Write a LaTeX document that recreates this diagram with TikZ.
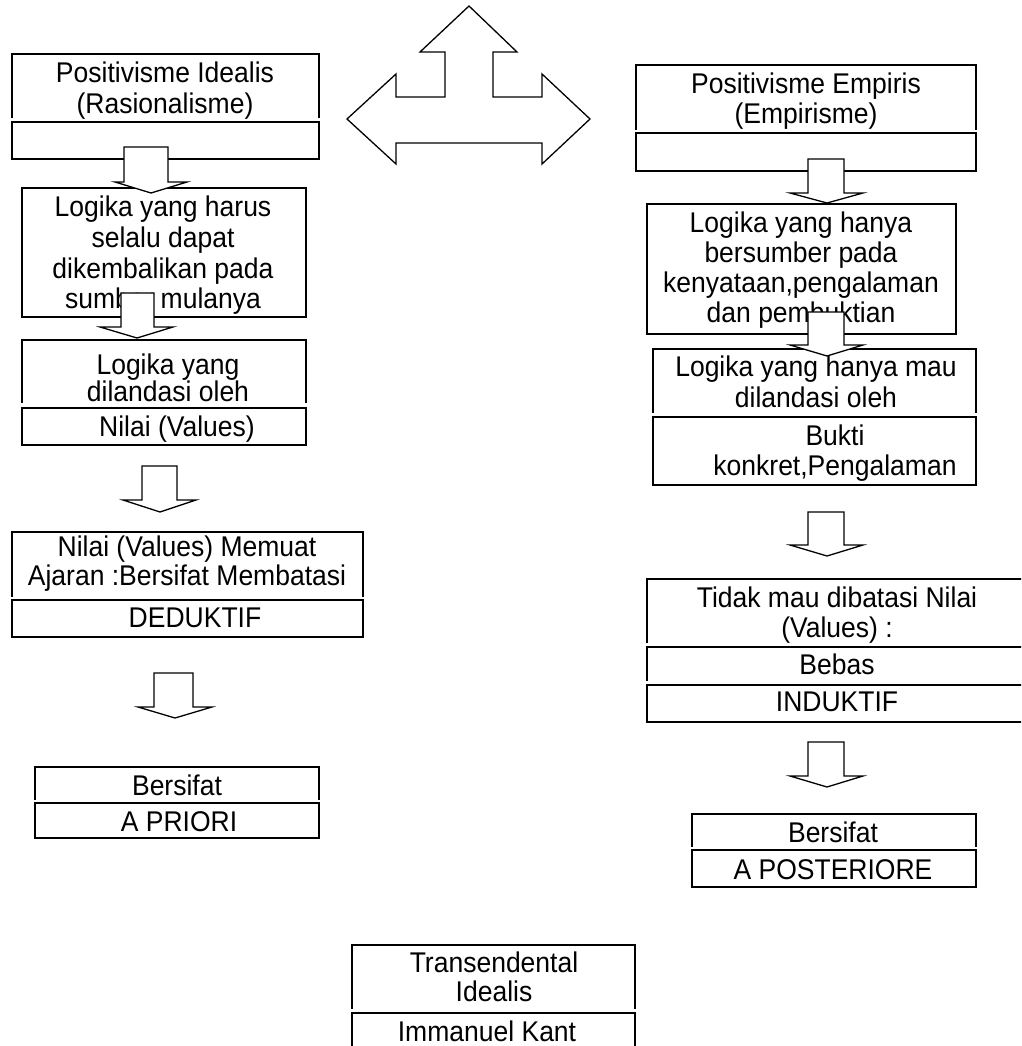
\documentclass[tikz,border=0pt]{standalone}
\usepackage{fontspec}
\setmainfont{Liberation Sans}
\newfontfamily\diagfont[FakeStretch=0.93]{Liberation Sans}
\tikzset{
  txt/.style={font=\diagfont\fontsize{28.5}{#1}\selectfont, align=center, inner sep=0pt,
    anchor=north, yshift=24pt, execute at begin node={\rule{0pt}{24pt}}},
  txt/.default=30.5,
  box/.style={line width=2pt},
  barrow/.style={draw, fill=white, line width=1.3pt, line join=miter},
}
\begin{document}
\begin{tikzpicture}[x=1pt,y=-1pt]
\useasboundingbox (0,0) rectangle (1021,1046);
\fill[white] (0,0) rectangle (1021,1046);
\clip (0,0) rectangle (1021,1046);

% ---------- boxes ----------
% left column
\draw[box] (12,118) |- (319,54) -- (319,118);
\draw[box] (12,122) rectangle (319,159);
\draw[box] (22,188) rectangle (306,317);
\draw[box] (22,403) |- (306,340) -- (306,403);
\draw[box] (22,408) rectangle (306,445);
\draw[box] (12,597) |- (363,532) -- (363,597);
\draw[box] (12,600) rectangle (363,637);
\draw[box] (35,800) |- (319,767) -- (319,800);
\draw[box] (35,803) rectangle (319,838);
% right column
\draw[box] (636,130) |- (976,65) -- (976,130);
\draw[box] (636,133) rectangle (976,171);
\draw[box] (647,204) rectangle (956,334);
\draw[box] (653,413) |- (976,349) -- (976,413);
\draw[box] (653,417) rectangle (976,485);
\draw[box] (647,643) |- (1027,579) -- (1027,643);
\draw[box] (647,681) |- (1027,647) -- (1027,681);
\draw[box] (647,685) rectangle (1027,722);
\draw[box] (692,847) |- (976,814) -- (976,847);
\draw[box] (692,850) rectangle (976,887);
% centre
\draw[box] (352,1009) |- (635,945) -- (635,1009);
\draw[box] (352,1013) rectangle (635,1060);

% ---------- texts ----------
\node[txt] (l1) at (165,86) {Positivisme Idealis\\(Rasionalisme)};
\node[txt=30.7] (l2) at (163,220) {Logika yang harus\\selalu dapat\\dikembalikan pada\\sumber mulanya};
\node[txt=27] (l3) at (168,378) {Logika yang\\dilandasi oleh};
\node[txt] (l3b) at (177,436) {Nilai (Values)};
\node[txt=28.5] (l4) at (187,560) {Nilai (Values) Memuat\\Ajaran :Bersifat Membatasi};
\node[txt] (l4b) at (195,627) {DEDUKTIF};
\node[txt] (l5) at (177,795) {Bersifat};
\node[txt] (l5b) at (179,831) {A PRIORI};

\node[txt=29.5] (r1) at (806,97) {Positivisme Empiris\\(Empirisme)};
\node[txt=30] (r2) at (801,236) {Logika yang hanya\\bersumber pada\\kenyataan,pengalaman\\dan pembuktian};
\node[txt] (r3) at (816,380) {Logika yang hanya mau\\dilandasi oleh};
\node[txt=30] (r3b) at (835,449) {Bukti\\konkret,Pengalaman};
\node[txt=29.5] (r4) at (837,611) {Tidak mau dibatasi Nilai\\(Values) :};
\node[txt] (r4b) at (837,674) {Bebas};
\node[txt] (r4c) at (837,711) {INDUKTIF};
\node[txt] (r5) at (833,842) {Bersifat};
\node[txt] (r5b) at (833,879) {A POSTERIORE};

\node[txt=29] (c1) at (494,976) {Transendental\\Idealis};
\node[txt] (c1b) at (487,1041) {Immanuel Kant};

% ---------- block arrows ----------
\draw[barrow] (469,6) -- (517,52) -- (493,52) -- (493,97) -- (542,97) -- (542,74)
  -- (590,119) -- (542,164) -- (542,143) -- (396,143) -- (396,164) -- (347,119)
  -- (396,74) -- (396,97) -- (445,97) -- (445,52) -- (420,52) -- cycle;

\draw[barrow] (124,147) -- (168,147) -- (168,182) -- (187,182) -- (151,193) -- (115,182) -- (124,182) -- cycle;
\draw[barrow] (121,293) -- (154,293) -- (154,327) -- (173,327) -- (137,338) -- (100,327) -- (121,327) -- cycle;
\draw[barrow] (142,466) -- (177,466) -- (177,500) -- (196,500) -- (160,512) -- (123,500) -- (142,500) -- cycle;
\draw[barrow] (154,673) -- (193,673) -- (193,707) -- (212,707) -- (175,718) -- (138,707) -- (154,707) -- cycle;

\draw[barrow] (808,159) -- (844,159) -- (844,193) -- (863,193) -- (827,203) -- (790,193) -- (808,193) -- cycle;
\draw[barrow] (808,312) -- (844,312) -- (844,345) -- (863,345) -- (827,356) -- (790,345) -- (808,345) -- cycle;
\draw[barrow] (808,512) -- (844,512) -- (844,545) -- (863,545) -- (827,556) -- (790,545) -- (808,545) -- cycle;
\draw[barrow] (808,742) -- (844,742) -- (844,776) -- (863,776) -- (827,787) -- (790,776) -- (808,776) -- cycle;
\end{tikzpicture}
\end{document}
